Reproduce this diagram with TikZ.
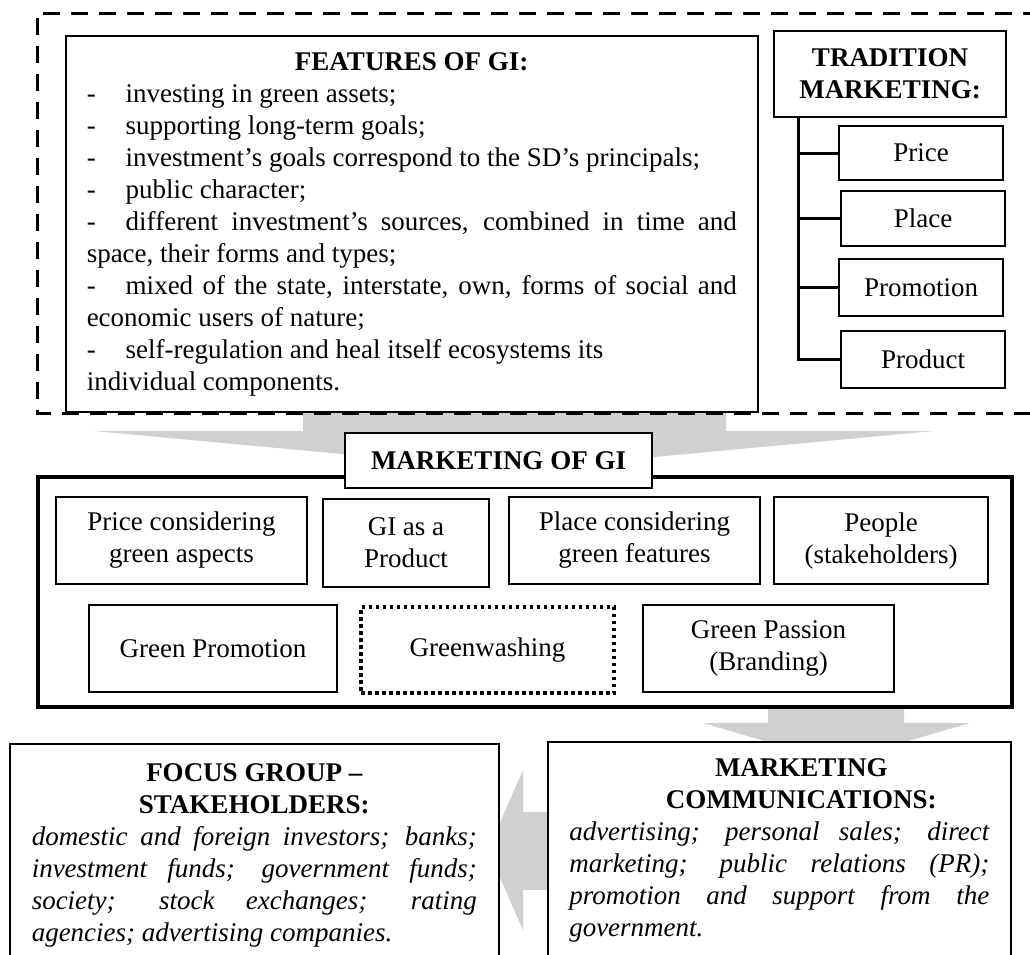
\documentclass[tikz,border=0pt]{standalone}
\usepackage{fontspec}
\setmainfont{Liberation Serif}
\definecolor{arrowgray}{RGB}{208,208,208}
\newcommand{\bodyfont}{\fontsize{27}{32}\selectfont}
\newcommand{\dashitem}{\par\makebox[39pt][l]{-}}
\newcommand{\textpanel}[3]{\begin{minipage}[t][#1][t]{#2}\bodyfont #3\end{minipage}}

\begin{document}
\begin{tikzpicture}[x=1pt,y=-1pt,
    box/.style={draw, line width=1.5pt, fill=white, align=center, font=\bodyfont, inner sep=0pt},
    title/.style={box, font=\bodyfont\bfseries},
    panelbox/.style={draw, line width=1.5pt, fill=white, anchor=north west, inner ysep=16.5pt},
    bigarrow/.style={fill=arrowgray},
    tree/.style={line width=3pt},
    frame/.style={line width=3pt, dash pattern=on 17pt off 11pt}]

        \useasboundingbox (0,0) rectangle (1030,954);

        %%ARROWS
        % Features -> marketing of GI
        \path[bigarrow] (303,413) -- (726,413) -- (726,431) -- (934,431) -- (514,470) -- (94,431) -- (303,431) -- cycle;
        % Marketing of GI -> communications
        \path[bigarrow] (768,707) -- (904,707) -- (904,723) -- (970,723) -- (836,762) -- (703,723) -- (768,723) -- cycle;
        % Communications -> focus group
        \path[bigarrow] (547,812) -- (523,812) -- (523,770) -- (488,850) -- (523,930) -- (523,890) -- (547,890) -- cycle;

        %%TOP PANEL
        % Features
        \node[panelbox, inner xsep=21pt] (feat) at (65,35) {\textpanel{343pt}{650pt}{%
            {\centering\bfseries FEATURES OF GI:\par}
            \dashitem investing in green assets;
            \dashitem supporting long-term goals;
            \dashitem investment’s goals correspond to the SD’s principals;
            \dashitem public character;
            \dashitem different investment’s sources, combined in time and\linebreak space, their forms and types;
            \dashitem mixed of the state, interstate, own, forms of social and\linebreak economic users of nature;
            \dashitem self-regulation and heal itself ecosystems its\\ individual components.}};

        % Tradition marketing
        \node[title, minimum width=232pt, minimum height=86pt] (trad) at (890,74) {TRADITION\\MARKETING:};
        \node[box, minimum width=164pt, minimum height=54pt] (price) at (921,153) {Price};
        \node[box, minimum width=164pt, minimum height=55pt] (place) at (923,218.5) {Place};
        \node[box, minimum width=164pt, minimum height=57pt] (promo) at (921,287.5) {Promotion};
        \node[box, minimum width=164pt, minimum height=57pt] (product) at (923,359.5) {Product};

        % Tree
        \coordinate (trunk) at ([xshift=25pt]trad.south west);
        \draw[tree] (trunk) |- (product.west);
        \draw[tree] (trunk |- price.west) -- (price.west);
        \draw[tree] (trunk |- place.west) -- (place.west);
        \draw[tree] (trunk |- promo.west) -- (promo.west);

        % Dashed outline
        \draw[frame] (1040,13) -| (37,413) -- (1040,413);

        %%MARKETING OF GI
        \node[draw, line width=3.5pt, minimum width=974pt, minimum height=230pt] (mkt) at (525,592) {};
        \node[title, line width=2pt, minimum width=307pt, minimum height=55pt] (mktgi) at (498.5,460.5) {MARKETING OF GI};

        \node[box, minimum width=251pt, minimum height=87pt] (pricegreen) at (181.5,540.5) {Price considering\\green aspects};
        \node[box, minimum width=166pt, minimum height=88pt] (giprod) at (406,543) {GI as a\\Product};
        \node[box, minimum width=251pt, minimum height=87pt] (placegreen) at (634.5,540.5) {Place considering\\green features};
        \node[box, minimum width=214pt, minimum height=87pt] (people) at (881,540.5) {People\\(stakeholders)};

        \node[box, minimum width=248pt, minimum height=87pt] (greenpromo) at (213,648.5) {Green Promotion};
        \node[box, line width=3.5pt, dash pattern=on 3.5pt off 3.5pt, minimum width=253pt, minimum height=86pt] (greenwash) at (487.5,650) {Greenwashing};
        \node[box, minimum width=251pt, minimum height=87pt] (passion) at (768.5,648.5) {Green Passion\\(Branding)};

        %%BOTTOM PANELS
        % Focus group
        \node[panelbox, inner xsep=22pt, inner ysep=19.5pt] (focus) at (9,743) {\textpanel{240pt}{445pt}{%
            {\centering\bfseries FOCUS GROUP –\\STAKEHOLDERS:\par}
            \itshape domestic and foreign investors; banks;\linebreak investment funds; government funds;\linebreak society; stock exchanges; rating\linebreak agencies; advertising companies.}};

        % Communications
        \node[panelbox, inner xsep=21.5pt] (comm) at (547,741) {\textpanel{240pt}{420pt}{%
            {\centering\bfseries\hspace*{44pt}MARKETING\\\hspace*{44pt}COMMUNICATIONS:\par}
            \itshape advertising; personal sales; direct\linebreak marketing; public relations (PR);\linebreak promotion and support from the\linebreak government.}};

\end{tikzpicture}
\end{document}
